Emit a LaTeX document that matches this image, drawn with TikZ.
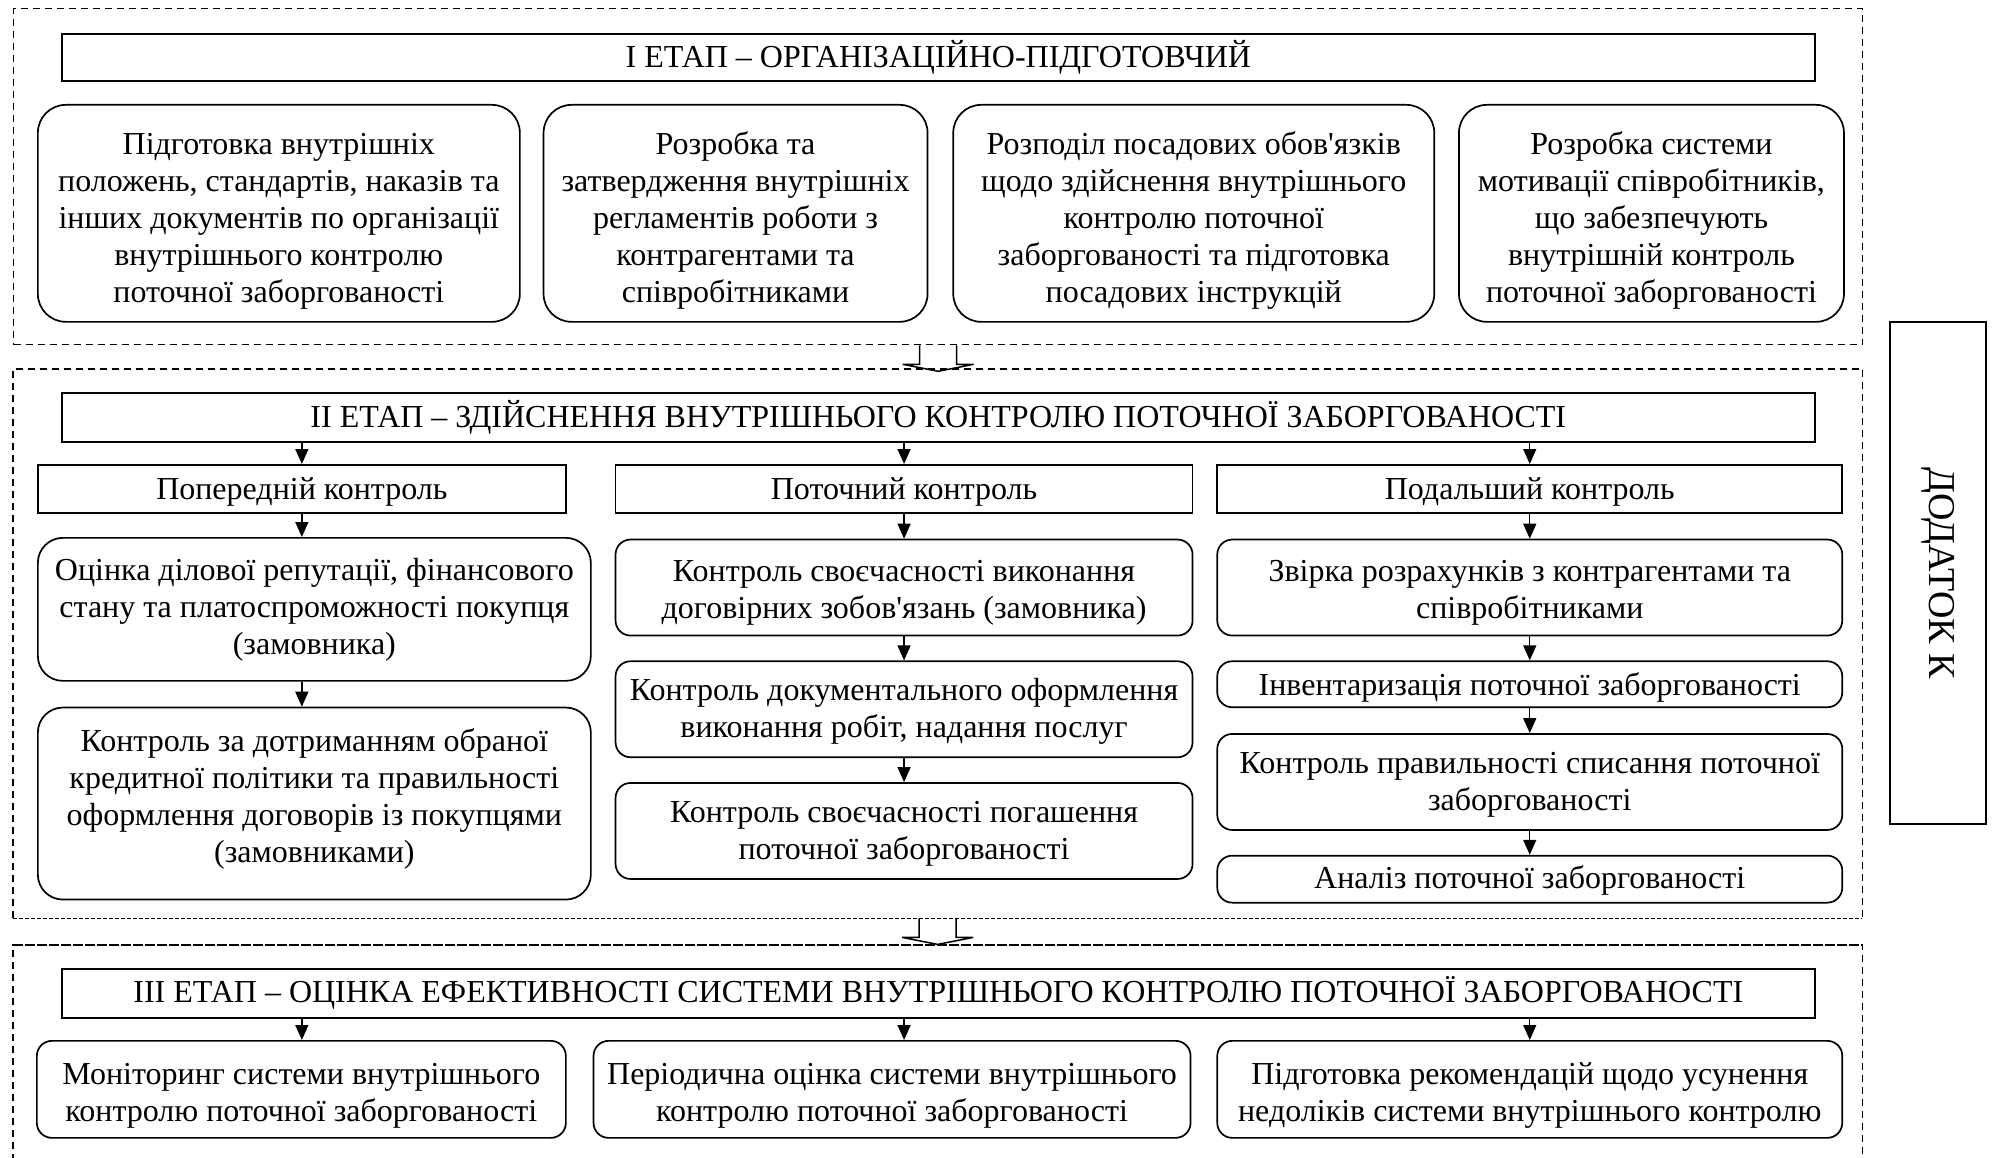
\documentclass[tikz,border=0pt]{standalone}
\usepackage{fontspec}
\setmainfont{Liberation Serif}
\usepackage{tikz}
\usetikzlibrary{positioning, arrows.meta}
\tikzset{
  stagebox/.style={rectangle, draw, line width=1.7pt, align=center,
                   inner sep=2pt, minimum width=1753pt,
                   font=\fontsize{32}{37}\selectfont},
  ctrlbox/.style={rectangle, draw, line width=1.7pt, align=center,
                  inner sep=2pt, minimum height=48pt, text height=29pt,
                  font=\fontsize{32}{37}\selectfont},
  rbox/.style={rectangle, rounded corners=28pt, draw, line width=1.7pt,
               align=center, inner sep=2pt,
               font=\fontsize{32}{37}\selectfont},
  orgbox/.style={rbox, minimum height=217pt, text height=186pt},
  sbox/.style={rbox, rounded corners=15pt},
  frame/.style={line width=1.3pt, dash pattern=on 7pt off 5pt},
  fineframe/.style={line width=1.3pt, dash pattern=on 3.5pt off 2.5pt},
  arr/.style={-{Triangle[length=15pt, width=13pt]}, line width=1.4pt},
  blockarr/.style={line width=1.5pt},
}

\begin{document}
\begin{tikzpicture}[x=1pt, y=-1pt]
    \useasboundingbox (0,0) rectangle (1993,1158);
    \node[frame, draw, minimum width=1849pt, minimum height=336pt, anchor=north west] (s1) at (13,8) {};
    \node[minimum width=1849pt, minimum height=549pt, anchor=north west] (s2) at (13,369) {};
    \node[minimum width=1849pt, minimum height=300pt, anchor=north west] (s3) at (13,945) {};
    \draw[frame] (s2.south west) -- (s2.north west) -- (s2.north east) -- (s2.south east);
    \draw[fineframe] (s2.south west) -- (s2.south east);
    \draw[frame] (s3.south west) -- (s3.north west) -- (s3.north east) -- (s3.south east);
    \draw[fineframe] (s3.north west) -- (s3.north east);
    \draw[blockarr, shift={(s1.south)}] (-18.5,0) -- (-18.5,19) -- (-35.5,19) -- (0,26)
          -- (35.5,19) -- (18.5,19) -- (18.5,0);
    \draw[blockarr, shift={(s2.south)}] (-18.5,0) -- (-18.5,19) -- (-35.5,19) -- (0,26)
          -- (35.5,19) -- (18.5,19) -- (18.5,0);

    \node[stagebox, minimum height=47pt, anchor=north west] (st1) at (61,33)
          {І ЕТАП – ОРГАНІЗАЦІЙНО-ПІДГОТОВЧИЙ};
    \node[orgbox, minimum width=482pt, anchor=north west] (org1) at (37,104)
          {Підготовка внутрішніх\\положень, стандартів, наказів та\\інших документів по організації\\внутрішнього контролю\\поточної заборгованості};
    \node[orgbox, minimum width=384pt, right=22pt of org1] (org2)
          {Розробка та\\затвердження внутрішніх\\регламентів роботи з\\контрагентами та\\співробітниками};
    \node[orgbox, minimum width=481pt, right=24pt of org2] (org3)
          {Розподіл посадових обов\textquotesingle{}язків\\щодо здійснення внутрішнього\\контролю поточної\\заборгованості та підготовка\\посадових інструкцій};
    \node[orgbox, minimum width=385pt, right=23pt of org3] (org4)
          {Розробка системи\\мотивації співробітників,\\що забезпечують\\внутрішній контроль\\поточної заборгованості};

    \node[stagebox, minimum height=49pt, anchor=north west] (st2) at (61,392)
          {ІІ ЕТАП – ЗДІЙСНЕННЯ ВНУТРІШНЬОГО КОНТРОЛЮ ПОТОЧНОЇ ЗАБОРГОВАНОСТІ};
    \node[ctrlbox, minimum width=528pt, anchor=north west] (pre) at (37,464) {Попередній контроль};
    \node[ctrlbox, minimum width=577pt, right=48pt of pre] (cur) {Поточний контроль};
    \node[ctrlbox, minimum width=625pt, right=23pt of cur] (post) {Подальший контроль};
    \draw[arr] (st2.south -| pre) -- (pre); \draw[arr] (st2.south -| cur) -- (cur);
    \draw[arr] (st2.south -| post) -- (post);

    \node[rbox, rounded corners=25pt, minimum width=553pt, minimum height=143pt, anchor=north west] (pre1) at (37,537)
          {Оцінка ділової репутації, фінансового\\стану та платоспроможності покупця\\(замовника)};
    \node[rbox, rounded corners=25pt, text height=125pt, minimum width=553pt, minimum height=192pt, below=25pt of pre1] (pre2)
          {Контроль за дотриманням обраної\\кредитної політики та правильності\\оформлення договорів із покупцями\\(замовниками)};
    \draw[arr] (pre) -- (pre |- pre1.north); \draw[arr] (pre1.south -| pre) -- (pre2.north -| pre);

    \node[sbox, text height=68pt, minimum width=577pt, minimum height=96pt, below=25pt of cur] (cur1)
          {Контроль своєчасності виконання\\договірних зобов\textquotesingle{}язань (замовника)};
    \node[sbox, text height=64pt, minimum width=577pt, minimum height=96pt, below=24pt of cur1] (cur2)
          {Контроль документального оформлення\\виконання робіт, надання послуг};
    \node[sbox, text height=63pt, minimum width=577pt, minimum height=96pt, below=24pt of cur2] (cur3)
          {Контроль своєчасності погашення\\поточної заборгованості};
    \draw[arr] (cur) -- (cur1); \draw[arr] (cur1) -- (cur2); \draw[arr] (cur2) -- (cur3);

    \node[sbox, text height=68pt, minimum width=625pt, minimum height=96pt, below=25pt of post] (post1)
          {Звірка розрахунків з контрагентами та\\співробітниками};
    \node[sbox, text height=30pt, minimum width=625pt, minimum height=46pt, below=24pt of post1] (post2)
          {Інвентаризація поточної заборгованості};
    \node[sbox, text height=63pt, minimum width=625pt, minimum height=96pt, below=25pt of post2] (post3)
          {Контроль правильності списання поточної\\заборгованості};
    \node[sbox, text height=25pt, minimum width=625pt, minimum height=47pt, below=24pt of post3] (post4)
          {Аналіз поточної заборгованості};
    \draw[arr] (post) -- (post1); \draw[arr] (post1) -- (post2);
    \draw[arr] (post2) -- (post3); \draw[arr] (post3) -- (post4);

    \node[stagebox, minimum height=49pt, anchor=north west] (st3) at (61,968)
          {ІІІ ЕТАП – ОЦІНКА ЕФЕКТИВНОСТІ СИСТЕМИ ВНУТРІШНЬОГО КОНТРОЛЮ ПОТОЧНОЇ ЗАБОРГОВАНОСТІ};
    \node[sbox, text height=72pt, minimum width=529pt, minimum height=97pt, anchor=north west] (eval1) at (36,1040)
          {Моніторинг системи внутрішнього\\контролю поточної заборгованості};
    \node[sbox, text height=72pt, minimum width=597pt, minimum height=97pt, right=26pt of eval1] (eval2)
          {Періодична оцінка системи внутрішнього\\контролю поточної заборгованості};
    \node[sbox, text height=72pt, minimum width=625pt, minimum height=97pt, right=25pt of eval2] (eval3)
          {Підготовка рекомендацій щодо усунення\\недоліків системи внутрішнього контролю};
    \draw[arr] (st3.south -| pre) -- (eval1.north -| pre); \draw[arr] (st3.south -| cur) -- (eval2.north -| cur);
    \draw[arr] (st3.south -| post) -- (eval3.north -| post);

    \node[rectangle, draw, line width=1.7pt, rotate=-90, minimum width=502pt, minimum height=96pt,
          font=\fontsize{38}{44}\selectfont] (app) at (1938,573) {ДОДАТОК К};
  \end{tikzpicture}
\end{document}
